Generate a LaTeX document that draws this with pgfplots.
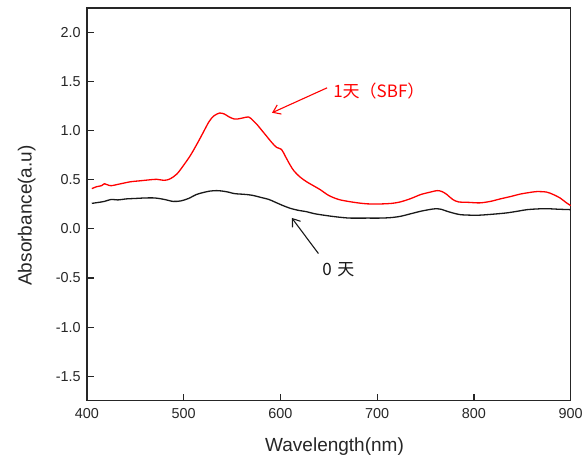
\documentclass[border=0pt]{standalone}
\usepackage{fontspec}
\setmainfont{Liberation Sans}
\newfontfamily\cjk{Noto Sans CJK SC}
\usepackage{pgfplots}
\pgfplotsset{compat=1.18}
\usetikzlibrary{arrows.meta}

\begin{document}
\begin{tikzpicture}
\path[use as bounding box] (0,0) rectangle (583bp,457bp);
\begin{axis}[
  at={(87bp,56.3bp)}, anchor=south west,
  scale only axis, width=483.7bp, height=392.7bp,
  xmin=400, xmax=900, ymin=-1.75, ymax=2.25,
  xtick={400,500,...,900}, ytick={-1.5,-1,...,2},
  tick align=inside, xtick pos=lower, ytick pos=left,
  major tick length=7bp, minor tick num=0,
  axis line style={line width=1.1bp, black!85},
  tick style={line width=1.1bp, black!85},
  /pgf/number format/assume math mode=true,
  tick label style={font=\fontsize{14.4bp}{16bp}\selectfont, black!85},
  yticklabel style={/pgf/number format/.cd, fixed, fixed zerofill, precision=1, /tikz/.cd, xshift=-2.9bp},
  xticklabel style={yshift=-4.5bp},
  label style={font=\fontsize{19bp}{22bp}\selectfont, black!85},
  xlabel={Wavelength(nm)},
  ylabel={Absorbance(a.u)},
  xlabel style={at={(axis description cs:0.5117,-0.1306)}, anchor=base},
  ylabel style={at={(axis description cs:-0.1147,0.4716)}, anchor=base},
  clip=false,
]
% 1 day (SBF)
\addplot[red, line width=1.3bp, smooth] coordinates {
(405,0.41) (410,0.43) (415,0.44) (418,0.46) (421,0.45) (425,0.44) (435,0.46)
(445,0.48) (455,0.49) (465,0.50) (472,0.505) (480,0.495) (486,0.51)
(493,0.56) (500,0.65) (507,0.75) (514,0.87) (520,0.98) (526,1.09) (531,1.15)
(537,1.18) (542,1.17) (547,1.14) (552,1.12) (556,1.12) (561,1.13) (567,1.14)
(571,1.11) (576,1.06) (581,1.00) (586,0.94) (591,0.88) (596,0.83) (601,0.81)
(605,0.74) (610,0.65) (614,0.59) (620,0.53) (627,0.48) (634,0.44) (641,0.40)
(650,0.34) (660,0.30) (670,0.28) (680,0.265) (690,0.255) (703,0.254) (715,0.26)
(724,0.275) (735,0.31) (745,0.35) (755,0.375) (762,0.39) (767,0.38) (772,0.35)
(778,0.30) (784,0.275) (795,0.27) (806,0.265) (817,0.28) (827,0.305) (838,0.33)
(848,0.355) (857,0.37) (865,0.38) (875,0.375) (882,0.35) (889,0.315) (895,0.27)
(900,0.237)
};
% 0 day
\addplot[black!90, line width=1.3bp, smooth] coordinates {
(405,0.26) (412,0.27) (418,0.28) (425,0.30) (432,0.295) (440,0.305) (450,0.31)
(460,0.315) (470,0.315) (480,0.30) (489,0.28) (497,0.285) (505,0.31) (513,0.35)
(520,0.37) (527,0.385) (534,0.39) (540,0.385) (546,0.375) (552,0.36) (558,0.355)
(565,0.35) (572,0.34) (580,0.32) (588,0.30) (595,0.27) (602,0.24) (610,0.21)
(618,0.19) (627,0.175) (635,0.155) (648,0.135) (660,0.12) (672,0.11) (690,0.11)
(703,0.11) (714,0.115) (724,0.128) (735,0.155) (745,0.18) (753,0.195) (760,0.205)
(766,0.2) (772,0.18) (779,0.16) (786,0.145) (796,0.14) (806,0.14) (820,0.15)
(834,0.163) (845,0.18) (855,0.196) (865,0.203) (875,0.206) (888,0.2) (900,0.196)
};
\draw[red, line width=1.1bp, -{Straight Barb[length=7bp,width=10bp]}]
  (axis cs:648.2,1.437) -- (axis cs:591.3,1.183);
\draw[black!90, line width=1.1bp, -{Straight Barb[length=7bp,width=10bp]}]
  (axis cs:639.2,-0.251) -- (axis cs:611.7,0.112);
\node[anchor=west, inner sep=0, text=red, font=\cjk\fontsize{17bp}{20bp}\selectfont]
  at (axis cs:654.4,1.406) {1天（SBF）};
\node[anchor=west, inner sep=0, text=black!90, font=\cjk\fontsize{17bp}{20bp}\selectfont]
  at (axis cs:643,-0.415) {0\,\,天};
\end{axis}
\end{tikzpicture}
\end{document}
